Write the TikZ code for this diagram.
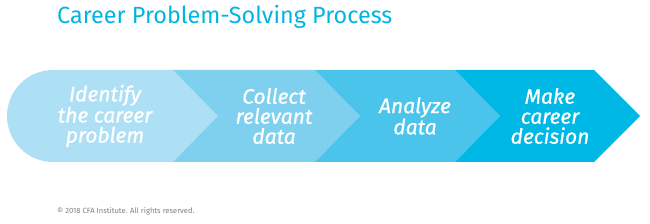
\documentclass[tikz,border=0pt]{standalone}
\usepackage{fontspec}
\setmainfont{Fira Sans}
\newfontfamily\stepfont{Fira Sans}[ItalicFeatures={FakeBold=0.8}]
\newfontfamily\titlefont{Fira Sans}
\definecolor{cA}{HTML}{AEE0F5}
\definecolor{cB}{HTML}{7FD0EE}
\definecolor{cC}{HTML}{4BC4EC}
\definecolor{cD}{HTML}{00B8E6}
\definecolor{ctitle}{HTML}{00B5E2}
\definecolor{cgray}{HTML}{808080}
\tikzset{
  steptext/.style={text=white, font=\stepfont\itshape\fontsize{21}{20}\selectfont, align=center, inner sep=0pt},
}
\begin{document}
\begin{tikzpicture}[x=1pt,y=-1pt]
\useasboundingbox (0,0) rectangle (650,224);
% segments
\fill[cA] (53,70) -- (173,70) -- (218,116) -- (173,162) -- (53,162) arc[start angle=90,end angle=270,radius=46] -- cycle;
\fill[cB] (173,70) -- (315,70) -- (360,116) -- (315,162) -- (173,162) -- (218,116) -- cycle;
\fill[cC] (315,70) -- (455,70) -- (500,116) -- (455,162) -- (315,162) -- (360,116) -- cycle;
\fill[cD] (455,70) -- (594,70) -- (640,116) -- (594,162) -- (455,162) -- (500,116) -- cycle;
% texts
\node[steptext] (s1) at (105,116) {Identify\\the career\\problem};
\node[steptext] (s2) at (274,116) {Collect\\relevant\\data};
\node[steptext] (s3) at (415,116) {Analyze\\data};
\node[steptext] (s4) at (550,116) {Make\\career\\decision};
\node[anchor=base west, inner sep=0pt, text=ctitle, font=\titlefont\fontsize{23.4}{24}\selectfont] (title) at (57,24) {Career Problem-Solving Process};
\node[anchor=base west, inner sep=0pt, text=cgray, font=\fontsize{7.6}{8}\selectfont] (copy) at (57,213) {© 2018 CFA Institute. All rights reserved.};
\end{tikzpicture}
\end{document}
